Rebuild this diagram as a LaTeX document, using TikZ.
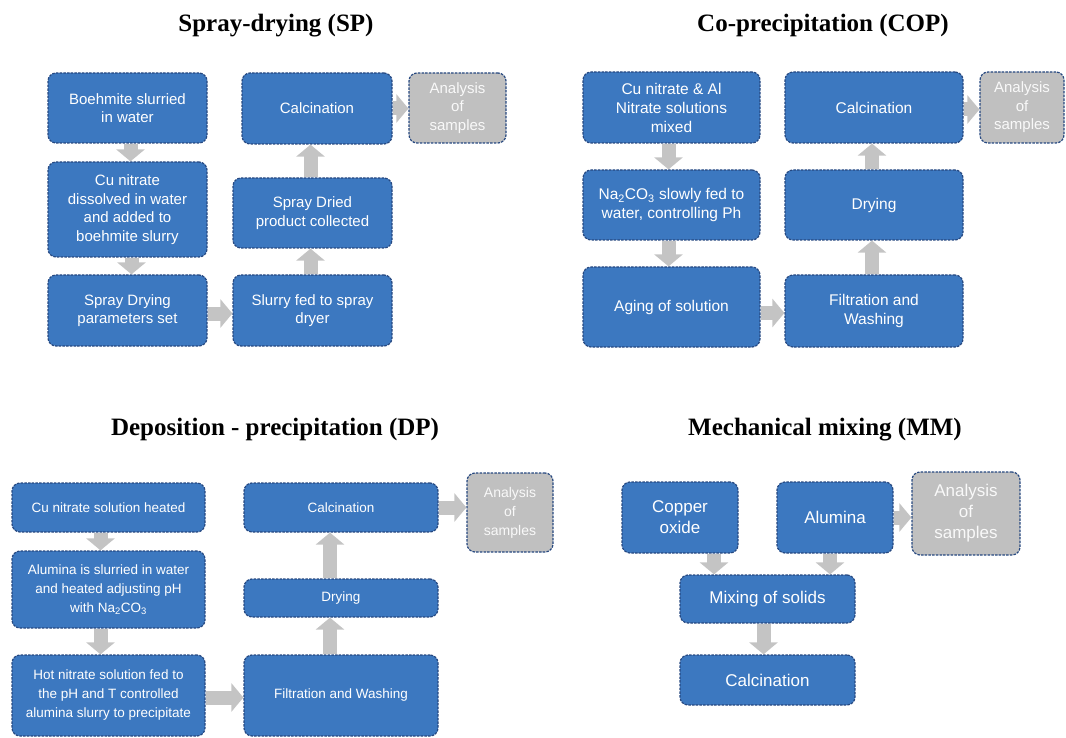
\documentclass[tikz,border=0pt]{standalone}
\usepackage{fontspec}
\setmainfont{Liberation Sans}
\newfontfamily\titlefont{Liberation Serif}
\usetikzlibrary{arrows.meta,calc}
\definecolor{boxblue}{RGB}{60,120,192}
\definecolor{boxedge}{RGB}{38,72,128}
\definecolor{boxgrey}{RGB}{192,192,192}
\definecolor{arrgrey}{RGB}{196,196,196}
\newcommand\bx[7][boxsp]{%
  \pgfmathsetmacro\bxw{#5-#3}\pgfmathsetmacro\bxh{#6-#4}%
  \node[#1, minimum width=\bxw pt, minimum height=\bxh pt] (#2) at ({(#3+#5)/2},{-(#4+#6)/2}) {#7};}
% fat connectors between named nodes
\newcommand\darr[3]{\coordinate (#1-#3) at ($(#1.south)+(#2,0)$);
  \draw[fat] (#1-#3) -- (#1-#3 |- #3.north);}
\newcommand\uarr[3]{\coordinate (#1-#3) at ($(#1.north)+(#2,0)$);
  \draw[fat] (#1-#3) -- (#1-#3 |- #3.south);}
\newcommand\rarr[3]{\coordinate (#1-#3) at ($(#1.east)+(0,#2)$);
  \draw[fat] (#1-#3) -- (#1-#3 -| #3.west);}
\tikzset{
  box/.style={draw=boxedge, fill=boxblue, text=white, line width=1.2pt,
    dash pattern=on 2.5pt off 1.2pt, rounded corners=8pt, inner sep=0pt, align=center},
  boxsp/.style={box, font=\fontsize{15}{18.5}\selectfont},
  boxcop/.style={box, font=\fontsize{15.5}{19}\selectfont},
  boxdp/.style={box, font=\fontsize{13.5}{19}\selectfont},
  boxmm/.style={box, font=\fontsize{17}{21}\selectfont},
  greysp/.style={boxsp, fill=boxgrey, text=white!95!gray},
  greydp/.style={boxdp, fill=boxgrey, text=white!95!gray, font=\fontsize{14}{19}\selectfont},
  greymm/.style={boxmm, fill=boxgrey, text=white!95!gray},
  fat/.style={draw=arrgrey, line width=14pt, -{Triangle[width=28pt,length=12pt]}},
  ttl/.style={anchor=base, font=\titlefont\bfseries\fontsize{25}{30}\selectfont}
}
\begin{document}
\begin{tikzpicture}[x=1pt,y=1pt]
\useasboundingbox (0,0) rectangle (1066,-738);
% titles
\node[ttl] (tsp) at (276,-32) {Spray-drying (SP)};
\node[ttl] (tcop) at (823,-32) {Co-precipitation (COP)};
\node[ttl] (tdp) at (275,-435) {Deposition - precipitation (DP)};
\node[ttl] (tmm) at (825,-435) {Mechanical mixing (MM)};
% SP
\bx{s1}{48}{73}{207}{143}{Boehmite slurried\\in water}
\bx{s2}{48}{162}{207}{257}{Cu nitrate\\dissolved in water\\and added to\\boehmite slurry}
\bx{s3}{48}{275}{207}{346}{Spray Drying\\parameters set}
\bx{s4}{233}{275}{392}{346}{Slurry fed to spray\\dryer}
\bx{s5}{233}{178}{392}{248}{Spray Dried\\product collected}
\bx{s6}{242}{73}{392}{144}{Calcination}
\bx[greysp]{s7}{409}{73}{506}{143}{Analysis\\of\\samples}
\darr{s1}{3}{s2}
\darr{s2}{4}{s3}
\rarr{s3}{-3}{s4}
\uarr{s4}{-2}{s5}
\uarr{s5}{-2}{s6}
\rarr{s6}{0}{s7}
% COP
\bx[boxcop]{c1}{583}{72}{760}{143}{Cu nitrate \& Al\\Nitrate solutions\\mixed}
\bx[boxcop]{c2}{583}{170}{760}{240}{Na\textsubscript{2}CO\textsubscript{3} slowly fed to\\water, controlling Ph}
\bx[boxcop]{c3}{583}{267}{760}{347}{Aging of solution}
\bx[boxcop]{c4}{785}{275}{963}{347}{Filtration and\\Washing}
\bx[boxcop]{c5}{785}{170}{963}{240}{Drying}
\bx[boxcop]{c6}{785}{72}{963}{143}{Calcination}
\bx[greysp]{c7}{980}{72}{1064}{143}{Analysis\\of\\samples}
\darr{c1}{-3}{c2}
\darr{c2}{-3}{c3}
\rarr{c3}{-6}{c4}
\uarr{c4}{-2}{c5}
\uarr{c5}{-2}{c6}
\rarr{c6}{-2}{c7}
% DP
\bx[boxdp]{d1}{12}{483}{205}{532}{Cu nitrate solution heated}
\bx[boxdp]{d2}{12}{551}{205}{628}{Alumina is slurried in water\\and heated adjusting pH\\with Na\textsubscript{2}CO\textsubscript{3}}
\bx[boxdp]{d3}{12}{655}{205}{736}{Hot nitrate solution fed to\\the pH and T controlled\\alumina slurry to precipitate}
\bx[boxdp]{d4}{244}{655}{438}{736}{Filtration and Washing}
\bx[boxdp]{d5}{244}{579}{438}{617}{Drying}
\bx[boxdp]{d6}{244}{483}{438}{532}{Calcination}
\bx[greydp]{d7}{467}{473}{553}{552}{Analysis\\of\\samples}
\darr{d1}{-8}{d2}
\darr{d2}{-8}{d3}
\rarr{d3}{-2}{d4}
\uarr{d4}{-11}{d5}
\uarr{d5}{-11}{d6}
\rarr{d6}{0}{d7}
% MM
\bx[boxmm]{m1}{622}{482}{738}{553}{Copper\\oxide}
\bx[boxmm]{m2}{777}{482}{893}{553}{Alumina}
\bx[boxmm]{m3}{680}{575}{855}{623}{Mixing of solids}
\bx[boxmm]{m4}{680}{655}{855}{705}{Calcination}
\bx[greymm]{m5}{912}{472}{1020}{555}{Analysis\\of\\samples}
\darr{m1}{34}{m3}
\darr{m2}{-5}{m3}
\darr{m3}{-4}{m4}
\rarr{m2}{0}{m5}
\end{tikzpicture}
\end{document}
